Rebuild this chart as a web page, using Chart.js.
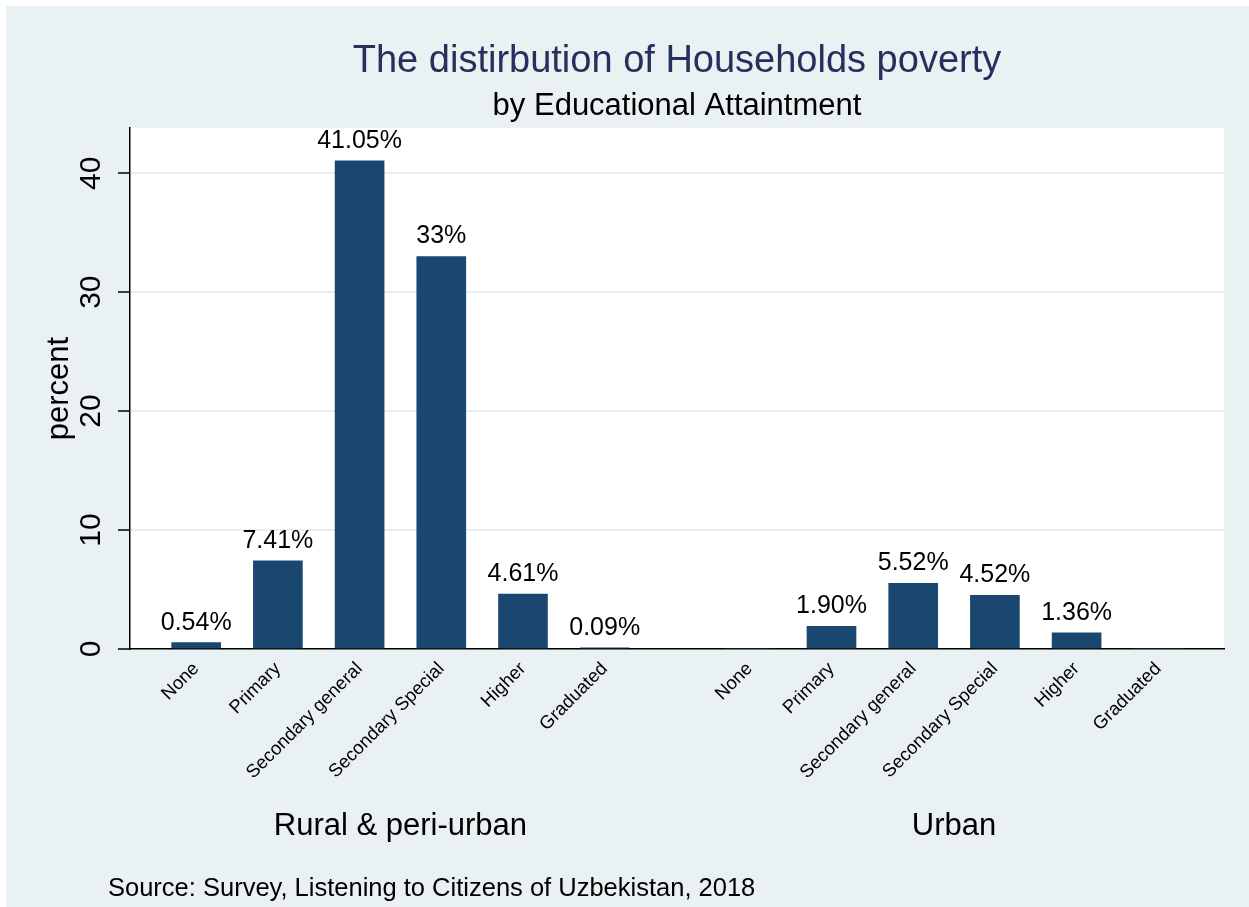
<!DOCTYPE html>
<html>
<head>
<meta charset="utf-8">
<script src="https://cdn.jsdelivr.net/npm/chart.js@4.4.1/dist/chart.umd.min.js"></script>
<style>
  html, body { margin: 0; padding: 0; background: #ffffff; }
  #wrap { width: 1249px; height: 907px; }
</style>
</head>
<body>
<div id="wrap"><canvas id="myChart" width="1249" height="907"></canvas></div>
<script>
// chart data
var groups = ['Rural & peri-urban', 'Urban'];
var educationLevels = ['None', 'Primary', 'Secondary general', 'Secondary Special', 'Higher', 'Graduated'];
var ruralValues = [0.54, 7.41, 41.05, 33, 4.61, 0.09];
var urbanValues = [0, 1.90, 5.52, 4.52, 1.36, 0];
var ruralLabels = ['0.54%', '7.41%', '41.05%', '33%', '4.61%', '0.09%'];
var urbanLabels = ['', '1.90%', '5.52%', '4.52%', '1.36%', ''];
var yTicks = [0, 10, 20, 30, 40];

var titleText = 'The distirbution of Households poverty';
var subtitleText = 'by Educational Attaintment';
var noteText = 'Source: Survey, Listening to Citizens of Uzbekistan, 2018';

// layout of the two groups on a numeric x axis
var GROUP_GAP = 0.776;
var groupValues = [ruralValues, urbanValues];
var groupLabels = [ruralLabels, urbanLabels];

var points = [];
var barLabels = [];
var tickPos = [];
var tickNames = [];
for (var g = 0; g < groupValues.length; g++) {
  for (var i = 0; i < educationLevels.length; i++) {
    var pos = g * (educationLevels.length + GROUP_GAP) + i;
    points.push({ x: pos, y: groupValues[g][i] });
    barLabels.push(groupLabels[g][i]);
    tickPos.push(pos);
    tickNames.push(educationLevels[i]);
  }
}

var FONT = '"Liberation Sans", Arial, Helvetica, sans-serif';
var BG = '#eaf1f3';

// background, titles, bar labels, group labels and source note
var decorPlugin = {
  id: 'decor',
  beforeDraw: function (chart) {
    var ctx = chart.ctx;
    var area = chart.chartArea;
    ctx.save();
    ctx.fillStyle = '#ffffff';
    ctx.fillRect(0, 0, chart.width, chart.height);
    ctx.fillStyle = BG;
    ctx.fillRect(6, 6, chart.width - 6, chart.height - 6);
    ctx.fillStyle = '#ffffff';
    ctx.fillRect(area.left, area.top, area.right - area.left, area.bottom - area.top);
    ctx.restore();
  },
  afterDraw: function (chart) {
    var ctx = chart.ctx;
    var area = chart.chartArea;
    var xScale = chart.scales.x;
    var cx = (area.left + area.right) / 2;
    ctx.save();

    ctx.textAlign = 'center';
    ctx.textBaseline = 'alphabetic';
    ctx.fillStyle = '#25305c';
    ctx.font = '38px ' + FONT;
    ctx.fillText(titleText, cx, 72);
    ctx.fillStyle = '#000000';
    ctx.font = '31px ' + FONT;
    ctx.fillText(subtitleText, cx, 115);

    // value labels above bars
    var meta = chart.getDatasetMeta(0);
    ctx.font = '25px ' + FONT;
    meta.data.forEach(function (bar, idx) {
      if (!barLabels[idx]) return;
      ctx.fillText(barLabels[idx], bar.x, bar.y - 13);
    });

    // group names under the axis labels
    ctx.font = '31px ' + FONT;
    var n = educationLevels.length;
    for (var g = 0; g < groups.length; g++) {
      var mid = g * (n + GROUP_GAP) + (n - 1) / 2;
      ctx.fillText(groups[g], xScale.getPixelForValue(mid), 835);
    }

    ctx.textAlign = 'left';
    ctx.font = '25.5px ' + FONT;
    ctx.fillText(noteText, 108, 896);
    ctx.restore();
  }
};

new Chart(document.getElementById('myChart'), {
  type: 'bar',
  data: {
    datasets: [{
      label: 'percent',
      data: points,
      backgroundColor: '#1a476f',
      borderWidth: 0,
      barThickness: 49
    }]
  },
  options: {
    responsive: false,
    animation: false,
    events: [],
    layout: { padding: { top: 128, right: 25, left: 41, bottom: 0 } },
    plugins: {
      legend: { display: false },
      tooltip: { enabled: false }
    },
    scales: {
      x: {
        type: 'linear',
        offset: false,
        min: -0.81,
        max: 12.58,
        afterBuildTicks: function (scale) {
          scale.ticks = tickPos.map(function (v) { return { value: v }; });
        },
        afterFit: function (scale) { scale.height = 258; },
        grid: { display: false, drawTicks: false },
        border: { display: true, color: '#000000', width: 1.5 },
        ticks: {
          autoSkip: false,
          minRotation: 45,
          maxRotation: 45,
          padding: 9,
          color: '#000000',
          font: { family: FONT, size: 18.5 },
          callback: function (value, index) { return tickNames[index]; }
        }
      },
      y: {
        min: 0,
        max: 43.8,
        afterBuildTicks: function (scale) {
          scale.ticks = yTicks.map(function (v) { return { value: v }; });
        },
        afterFit: function (scale) { scale.width = 89; },
        grid: {
          color: '#e6eef1',
          lineWidth: 2,
          tickColor: '#000000',
          tickWidth: 1.5,
          tickLength: 12
        },
        border: { display: true, color: '#000000', width: 1.5 },
        title: {
          display: true,
          text: 'percent',
          color: '#000000',
          padding: 0,
          font: { family: FONT, size: 31 }
        },
        ticks: {
          minRotation: 90,
          maxRotation: 90,
          crossAlign: 'center',
          padding: 10,
          color: '#000000',
          font: { family: FONT, size: 30 }
        }
      }
    }
  },
  plugins: [decorPlugin]
});
</script>
</body>
</html>
